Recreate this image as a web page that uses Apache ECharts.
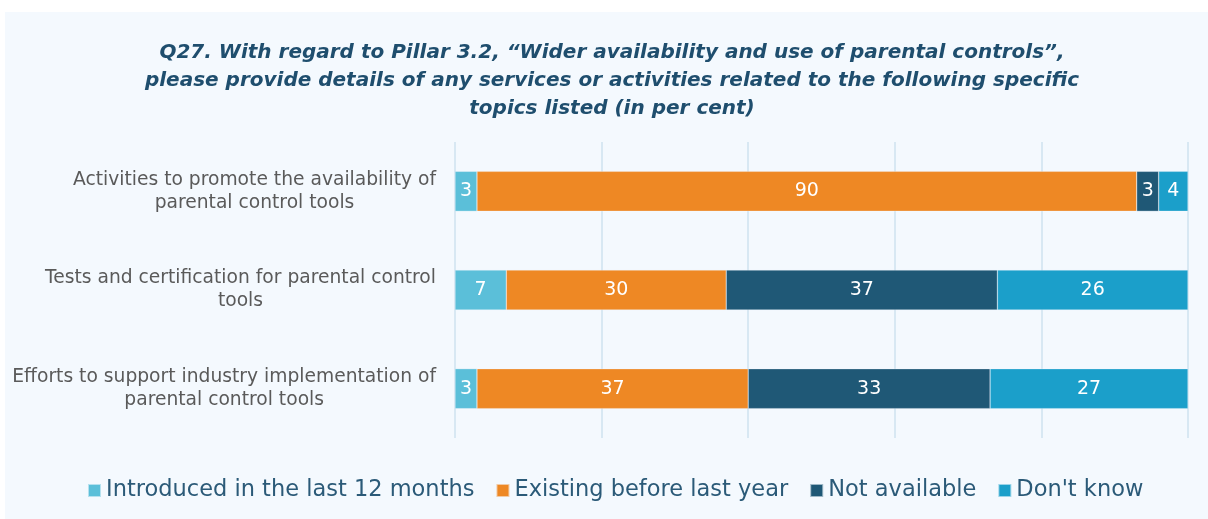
<!DOCTYPE html>
<html><head><meta charset="utf-8">
<script src="https://cdn.jsdelivr.net/npm/echarts@6/dist/echarts.min.js"></script>
<style>html,body{margin:0;padding:0;background:#fff;}#c{position:absolute;left:5px;top:12px;width:1203px;height:507px;background:#f4f9fe;}</style>
</head><body><div id="c"></div>
<script>
const categories = [
  "Activities to promote the availability of\nparental control tools",
  "Tests and certification for parental control\ntools",
  "Efforts to support industry implementation of\nparental control tools"
];
const seriesNames = ["Introduced in the last 12 months", "Existing before last year", "Not available", "Don't know"];
const introduced = [3, 7, 3];
const existing = [90, 30, 37];
const notAvailable = [3, 37, 33];
const dontKnow = [4, 26, 27];
const colors = ["#5bbfd9", "#ee8824", "#1f5876", "#1b9fca"];
const values = [introduced, existing, notAvailable, dontKnow];
const FONT = '"DejaVu Sans"';

const chart = echarts.init(document.getElementById('c'));
chart.setOption({
  backgroundColor: '#f4f9fe',
  title: {
    text: 'Q27. With regard to Pillar 3.2, \u201cWider availability and use of parental controls\u201d,\nplease provide details of any services or activities related to the following specific\ntopics listed (in per cent)',
    left: 602, top: 22, textAlign: 'center',
    textStyle: { fontFamily: FONT, fontStyle: 'italic', fontWeight: 'bold', fontSize: 20, color: '#1f4e6e', lineHeight: 28 }
  },
  grid: { left: 450, right: 20, top: 130, bottom: 81, containLabel: false, outerBoundsMode: 'none' },
  xAxis: {
    type: 'value', min: 0, max: 100, interval: 20,
    axisLabel: { show: false }, axisLine: { show: false }, axisTick: { show: false },
    splitLine: { lineStyle: { color: '#d8e8f3', width: 2 } }
  },
  yAxis: {
    type: 'category', inverse: true, data: categories,
    axisLine: { show: false }, axisTick: { show: false },
    axisLabel: {
      margin: 19,
      formatter: v => v.split('\n').map(s => '{c|' + s + '}').join('\n'),
      rich: { c: { align: 'center', fontFamily: FONT, fontSize: 18.7, color: '#5a5a5a', lineHeight: 23 } }
    }
  },
  legend: {
    bottom: 12, left: 77, itemWidth: 13, itemHeight: 13, itemGap: 21,
    icon: 'rect',
    textStyle: { fontFamily: FONT, fontSize: 22.5, color: '#2b5a78' }
  },
  series: seriesNames.map((n, i) => ({
    name: n, type: 'bar', stack: 'a', barWidth: 40, data: values[i],
    itemStyle: { color: colors[i], borderColor: 'rgba(244,249,254,0.6)', borderWidth: 0.5 },
    label: { show: true, position: 'inside', color: '#ffffff', fontFamily: FONT, fontSize: 19 }
  }))
});
</script></body></html>
